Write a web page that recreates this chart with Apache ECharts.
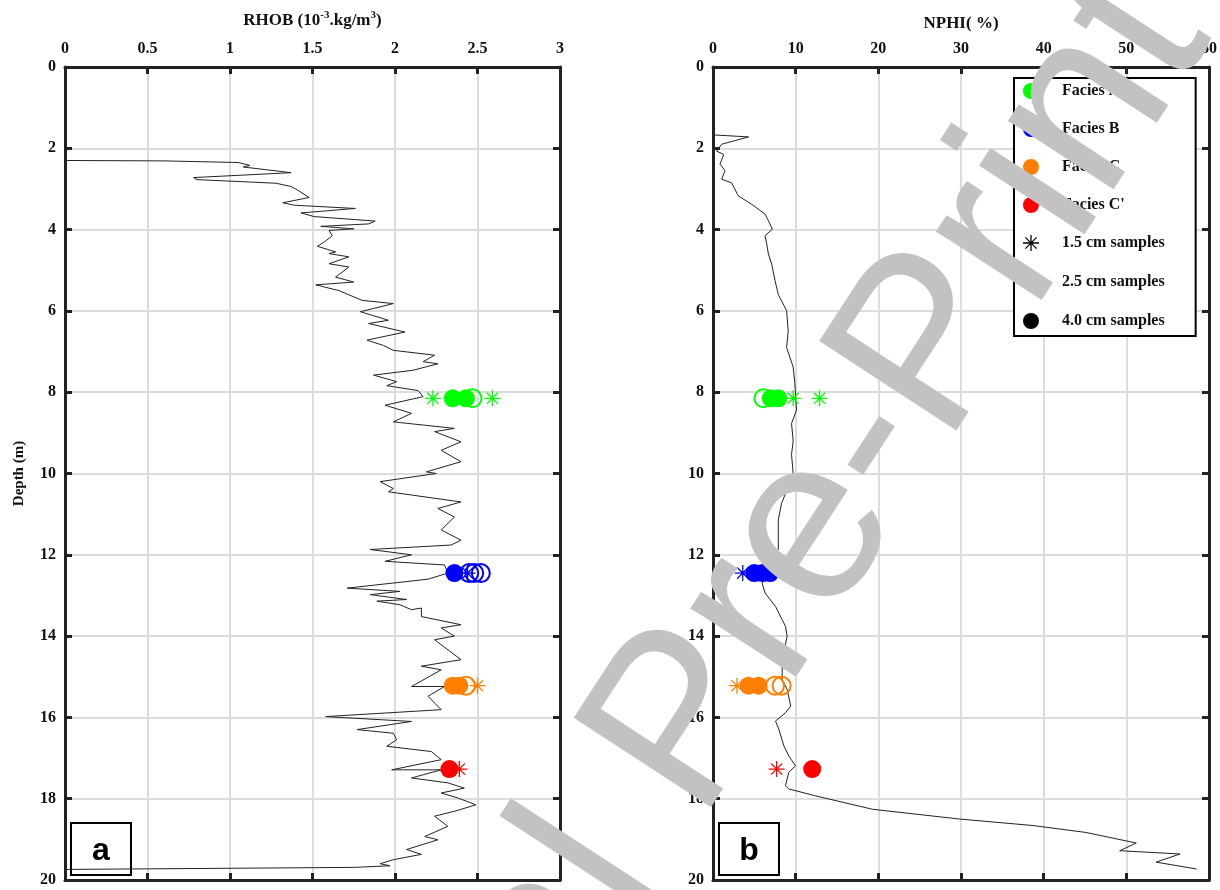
<!DOCTYPE html>
<html><head><meta charset="utf-8">
<script src="https://cdn.jsdelivr.net/npm/echarts@6/dist/echarts.min.js"></script>
<style>html,body{margin:0;padding:0;background:#fff}#c{width:1220px;height:890px}</style>
</head><body><div id="c"></div>
<script>
// ---- RHOB log (value, depth) ----
const rhobValue = [0,0.60,1.05,1.12,1.08,1.37,0.78,0.80,1.28,1.37,1.41,1.48,1.32,1.39,1.76,1.43,1.51,1.88,1.84,1.55,1.75,1.60,1.62,1.58,1.53,1.64,1.60,1.72,1.60,1.72,1.64,1.75,1.52,1.66,1.80,1.99,1.79,1.96,1.84,2.06,1.83,1.93,1.99,2.24,2.17,2.26,2.11,1.87,2.01,1.95,2.14,2.17,1.94,2.10,1.99,2.36,2.24,2.40,2.28,2.40,2.19,2.25,1.91,1.99,1.96,2.40,2.26,2.36,2.28,2.40,2.34,1.85,2.10,1.94,2.30,2.32,2.20,1.71,2.03,1.85,2.07,1.89,2.03,2.10,2.16,2.16,2.40,2.28,2.36,2.24,2.40,2.16,2.28,2.10,2.30,2.20,2.28,1.58,2.10,1.77,1.99,2.01,1.95,2.22,2.28,1.98,2.28,2.10,2.32,2.42,2.28,2.38,2.49,2.36,2.24,2.32,2.18,2.26,2.07,2.16,1.99,1.91,1.97,1.75,0];
const rhobDepth = [2.30,2.31,2.35,2.42,2.46,2.60,2.72,2.77,2.86,2.94,3.03,3.21,3.34,3.40,3.48,3.59,3.68,3.79,3.86,3.92,3.98,4.02,4.15,4.28,4.41,4.55,4.59,4.67,4.84,4.92,5.17,5.29,5.36,5.50,5.74,5.82,6.02,6.23,6.31,6.52,6.72,6.85,6.97,7.09,7.25,7.30,7.46,7.58,7.74,7.84,7.96,8.11,8.32,8.52,8.73,8.89,8.97,9.22,9.43,9.71,9.96,10.0,10.2,10.37,10.45,10.70,10.86,11.07,11.39,11.64,11.76,11.87,12.0,12.16,12.25,12.45,12.60,12.82,12.90,12.98,13.10,13.14,13.23,13.35,13.31,13.52,13.72,13.80,14.0,14.09,14.58,14.74,14.83,15.24,15.24,15.48,15.81,15.98,16.10,16.30,16.39,16.55,16.71,16.84,17.04,17.29,17.29,17.49,17.61,17.74,17.86,17.98,18.15,18.31,18.43,18.68,18.93,19.01,19.25,19.37,19.50,19.60,19.65,19.69,19.74];
// ---- NPHI log (value, depth) ----
const nphiValue = [0,4.3,1.05,0.44,1.3,0.85,1.45,1.05,2.25,3.06,4.7,6.3,6.7,7.18,6.29,6.5,6.7,7.1,7.5,7.9,8.9,9.1,8.9,9.7,9.9,10.1,9.5,9.7,9.5,9.7,9.1,8.3,7.9,7.9,7.56,7.2,6.5,5.94,6.3,7.56,8.77,8.97,8.37,8.37,8.97,9.4,8.8,7.56,7.96,8.57,9.17,9.98,9.17,8.77,9.17,12.4,19.3,29.8,38.7,45.1,51.2,49.2,56.5,53.6,58.5];
const nphiDepth = [1.67,1.72,1.90,2.07,2.15,2.39,2.55,2.76,2.85,3.17,3.38,3.62,3.78,3.99,4.15,4.35,4.60,4.85,5.25,5.60,5.99,6.50,6.90,7.38,7.79,8.44,8.77,9.20,9.53,10.0,10.33,10.73,11.14,11.87,11.96,12.2,12.5,12.7,12.94,13.27,13.76,14.0,14.58,15.07,15.31,15.72,15.88,16.09,16.29,16.70,16.95,17.19,17.35,17.68,17.76,17.93,18.26,18.5,18.66,18.83,19.09,19.28,19.36,19.56,19.73];

// ---- core samples ----
const faciesNames = ['Facies A','Facies B','Facies C',"Facies C'"];
const faciesColors = ['#00ff00','#0000ff','#ff8000','#ff0000'];
const faciesDepth = [8.15, 12.45, 15.22, 17.27];
// RHOB sample values per facies
const rhob15 = [[2.23,2.59],[2.44],[2.50],[2.39]];
const rhob25 = [[2.47],[2.45,2.48,2.52],[2.43],[]];
const rhob40 = [[2.35,2.43],[2.36],[2.35,2.39],[2.33]];
// NPHI sample values per facies
const nphi15 = [[9.7,12.9],[3.6],[2.9],[7.7]];
const nphi25 = [[6.1],[],[7.5,8.3],[]];
const nphi40 = [[7.0,7.9],[5.0,6.0,6.9],[4.3,5.5],[12.0]];

const sampleNames = ['1.5 cm samples','2.5 cm samples','4.0 cm samples'];
const xTicksRhob = {min:0,max:3,interval:0.5};
const xTicksNphi = {min:0,max:60,interval:10};
const depthTicks = {min:0,max:20,interval:2};
const watermarkText = 'Journal Pre-Print';

const STAR = 'path://M46 0L54 0L54 100L46 100Z M0 46L100 46L100 54L0 54Z M17.8 12.2L87.8 82.2L82.2 87.8L12.2 17.8Z M87.8 17.8L17.8 87.8L12.2 82.2L82.2 12.2Z';

const FONT = '"Liberation Serif", "Times New Roman", serif';
const lblStyle = {fontFamily: FONT, fontWeight: 'bold', fontSize: 16, color: '#111'};
const axLine = {show:true, onZero:false, lineStyle:{color:'#222', width:3}};
const tickIn = {show:true, inside:true, length:7, lineStyle:{color:'#222', width:3}};
const split = {show:true, lineStyle:{color:'#dcdcdc', width:2}};

function xAx(grid, pos, ticks, labels, name){
  return Object.assign({type:'value', gridIndex:grid, position:pos, axisLine:axLine, axisTick:tickIn,
    splitLine: labels ? split : {show:false},
    axisLabel: labels ? Object.assign({margin:10}, lblStyle) : {show:false},
    name: name || '', nameLocation:'middle', nameGap:35,
    nameTextStyle: {fontFamily:FONT, fontWeight:'bold', fontSize:17, color:'#111',
      rich:{a:{fontFamily:FONT, fontWeight:'bold', fontSize:17, color:'#111', lineHeight:22},
            s:{fontFamily:FONT, fontWeight:'bold', fontSize:11, color:'#111', verticalAlign:'top', lineHeight:22, padding:[0,0,10,0]}}}
  }, ticks);
}
function yAx(grid, pos, labels, name){
  return Object.assign({type:'value', gridIndex:grid, position:pos, inverse:true, axisLine:axLine, axisTick:tickIn,
    splitLine: labels ? split : {show:false},
    axisLabel: labels ? Object.assign({margin:9}, lblStyle) : {show:false},
    name: name || '', nameLocation:'middle', nameGap:38,
    nameTextStyle:{fontFamily:FONT, fontWeight:'bold', fontSize:15, color:'#111'}
  }, depthTicks);
}

const series = [];
function zip(v,d){ return v.map((x,i)=>[x,d[i]]); }
series.push({type:'line', name:'RHOB', xAxisIndex:0, yAxisIndex:0, data:zip(rhobValue,rhobDepth), showSymbol:false, symbol:'none', lineStyle:{color:'#222', width:1}, z:2});
series.push({type:'line', name:'NPHI', xAxisIndex:2, yAxisIndex:2, data:zip(nphiValue,nphiDepth), showSymbol:false, symbol:'none', lineStyle:{color:'#222', width:1}, z:2});

function addSamples(ax, s15, s25, s40){
  faciesNames.forEach((f,i)=>{
    const col = faciesColors[i], d = faciesDepth[i];
    series.push({type:'scatter', xAxisIndex:ax, yAxisIndex:ax, symbol:'circle', symbolSize:18, z:3,
      itemStyle:{color:col, opacity:1}, data:s40[i].map(v=>[v,d])});
    series.push({type:'scatter', xAxisIndex:ax, yAxisIndex:ax, symbol:'circle', symbolSize:18, z:4,
      itemStyle:{color:'rgba(0,0,0,0)', borderColor:col, borderWidth:2, opacity:1}, data:s25[i].map(v=>[v,d])});
    series.push({type:'scatter', xAxisIndex:ax, yAxisIndex:ax, symbol:STAR, symbolSize:16, z:5,
      itemStyle:{color:col, opacity:1}, data:s15[i].map(v=>[v,d])});
  });
}
addSamples(0, rhob15, rhob25, rhob40);
addSamples(2, nphi15, nphi25, nphi40);

// legend-only series
const legendData = [];
faciesNames.forEach((f,i)=>{
  series.push({type:'scatter', name:f, xAxisIndex:2, yAxisIndex:2, data:[], itemStyle:{color:faciesColors[i], opacity:1}});
  legendData.push({name:f, icon:'circle', itemStyle:{color:faciesColors[i], opacity:1}});
});
const sampleIcons = [
  {icon:STAR, itemStyle:{color:'#000', opacity:1}},
  {icon:'circle', itemStyle:{color:'#fff', borderColor:'#000', borderWidth:2, opacity:1}},
  {icon:'circle', itemStyle:{color:'#000', opacity:1}}
];
sampleNames.forEach((n,i)=>{
  series.push({type:'scatter', name:n, xAxisIndex:2, yAxisIndex:2, data:[], itemStyle:{color:'#000', opacity:1}});
  legendData.push(Object.assign({name:n}, sampleIcons[i]));
});

const WM = 238, WA = 56.9*Math.PI/180;
const chart = echarts.init(document.getElementById('c'), null, {renderer:'canvas'});
chart.setOption({
  animation:false,
  backgroundColor:'#fff',
  grid:[{left:65, top:67, width:495, height:813}, {left:713, top:67, width:496, height:813}],
  xAxis:[
    xAx(0,'top',xTicksRhob,true,'{a|RHOB (10}{s|-3}{a|.kg/m}{s|3}{a|)}'),
    xAx(0,'bottom',xTicksRhob,false),
    xAx(1,'top',xTicksNphi,true,'NPHI( %)'),
    xAx(1,'bottom',xTicksNphi,false)
  ],
  yAxis:[
    yAx(0,'left',true,'Depth (m)'),
    yAx(0,'right',false),
    yAx(1,'left',true),
    yAx(1,'right',false)
  ],
  legend:{
    data:legendData, orient:'vertical', left:1014, top:78, itemWidth:16, itemHeight:16, itemGap:22,
    selectedMode:false, borderColor:'#000', borderWidth:2, padding:[5,31,7,8], backgroundColor:'#fff',
    textStyle:{fontFamily:FONT, fontWeight:'bold', fontSize:16, color:'#111', padding:[0,0,0,18]}
  },
  graphic:[
    {type:'group', left:70, top:822, z:100, children:[
      {type:'rect', shape:{x:0,y:0,width:60,height:52}, style:{fill:'#fff', stroke:'#000', lineWidth:2}},
      {type:'text', x:30, y:28, style:{text:'a', font:'bold 32px "Liberation Sans", Arial, sans-serif', fill:'#000', textAlign:'center', textVerticalAlign:'middle'}}
    ]},
    {type:'group', left:718, top:822, z:100, children:[
      {type:'rect', shape:{x:0,y:0,width:60,height:52}, style:{fill:'#fff', stroke:'#000', lineWidth:2}},
      {type:'text', x:30, y:28, style:{text:'b', font:'bold 32px "Liberation Sans", Arial, sans-serif', fill:'#000', textAlign:'center', textVerticalAlign:'middle'}}
    ]},
    {type:'text', z:300, x:1158, y:1, rotation:WA, silent:true,
      style:{text:watermarkText, font:WM+'px "Liberation Sans", Arial, sans-serif', fill:'#c2c2c2', textAlign:'right', textVerticalAlign:'middle'}}
  ],
  series: series
});
</script></body></html>
